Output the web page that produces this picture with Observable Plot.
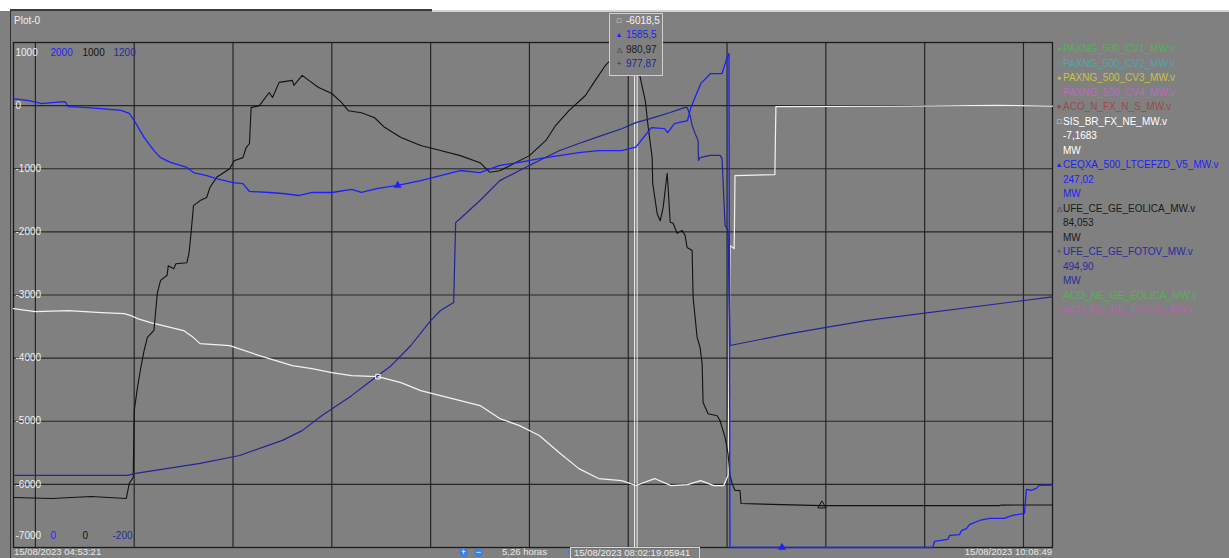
<!DOCTYPE html>
<html><head><meta charset="utf-8">
<script src="https://cdn.jsdelivr.net/npm/d3@7"></script>
<script src="https://cdn.jsdelivr.net/npm/@observablehq/plot@0.6"></script>
<style>
html,body{margin:0;padding:0;background:#808080;overflow:hidden;width:1229px;height:558px;font-family:"Liberation Sans",Arial,sans-serif;}
#wrap{position:relative;width:1229px;height:558px;overflow:hidden;}
#chart{position:absolute;left:0;top:0;}
.abs{position:absolute;white-space:nowrap;font-size:10px;}
.bot{position:absolute;white-space:nowrap;font-size:9.5px;line-height:10px;top:547px;}
#legend{position:absolute;left:1055px;top:42px;font-size:10px;line-height:14.5px;}
#legend div{height:14.5px;white-space:nowrap;}
#legend .sym{display:inline-block;width:8px;font-size:7px;vertical-align:top;text-align:center;}
#tip{position:absolute;left:609px;top:13px;width:52px;height:61px;border:1px solid #cfcfcf;background:#808080;font-size:10px;line-height:14.4px;}
#tip div{position:relative;height:14.4px;white-space:nowrap;}
#tip .sym{position:absolute;left:5px;width:8px;font-size:7px;text-align:center;}
#tip .val{position:absolute;left:16px;}
</style></head><body>
<div id="wrap">
  <div id="chart"></div>
</div>
<script>
// ---------- data ----------
const DAY = "2023-08-15";
const START = "04:53:21", END = "10:08:49";
const CURSOR = "08:02:19";

// SIS_BR_FX_NE_MW  (white, scale -7000..1000)
const sisBrFxNe = [["04:53:21",-3216],["05:00:00",-3263],["05:10:00",-3247],["05:20:00",-3279],["05:27:00",-3295],["05:29:00",-3326],["05:31:00",-3374],["05:35:00",-3437],["05:40:00",-3501],["05:45:00",-3564],["05:48:00",-3675],["05:50:00",-3770],["05:59:00",-3802],["06:08:00",-3960],["06:18:00",-4118],["06:24:00",-4166],["06:30:00",-4229],["06:36:00",-4277],["06:44:00",-4293],["06:51:00",-4388],["06:57:00",-4514],["07:03:00",-4594],["07:09:00",-4673],["07:15:00",-4752],["07:21:00",-4958],["07:27:00",-5069],["07:33:00",-5227],["07:39:00",-5496],["07:45:00",-5750],["07:51:00",-5908],["07:58:00",-5940],["08:02:19",-6018.5],["08:08:00",-5908],["08:13:00",-6019],["08:18:00",-6003],["08:22:00",-5940],["08:26:00",-6019],["08:29:00",-6019],["08:30:18",-5860],["08:30:55",-2218],["08:32:10",-2265],["08:32:25",-1109],["08:44:31",-1093],["08:44:50",-16],["09:22:00",-10],["09:52:00",5],["10:08:49",-7.17]];

// CEQXA_500_LTCEFZD_V5_MW (blue, scale 0..2000)
const ceqxa = [["04:53:21",1778],["04:58:00",1770],["05:02:00",1758],["05:05:00",1762],["05:09:00",1766],["05:10:00",1746],["05:16:00",1742],["05:20:00",1738],["05:26:00",1731],["05:28:30",1719],["05:30:00",1691],["05:33:00",1624],["05:36:00",1572],["05:38:00",1544],["05:41:00",1525],["05:46:00",1505],["05:48:00",1485],["05:52:00",1473],["05:55:00",1461],["06:00:00",1445],["06:03:00",1441],["06:05:00",1410],["06:11:00",1406],["06:15:00",1402],["06:20:00",1394],["06:24:00",1406],["06:30:00",1406],["06:36:00",1418],["06:39:00",1406],["06:44:00",1422],["06:50:00",1434],["06:57:00",1453],["07:03:00",1473],["07:09:00",1493],["07:15:00",1485],["07:21:00",1513],["07:27:00",1525],["07:33:00",1540],["07:39:00",1552],["07:45:00",1564],["07:51:00",1572],["07:58:00",1572],["08:02:19",1585.5],["08:07:00",1663],["08:11:00",1659],["08:12:00",1643],["08:14:00",1679],["08:18:00",1691],["08:19:00",1742],["08:22:00",1837],["08:25:00",1877],["08:28:30",1877],["08:30:00",1940],["08:30:35",1956],["08:30:53",0],["09:32:25",0],["09:33:00",24],["09:37:00",32],["09:37:36",48],["09:40:36",51],["09:41:12",67],["09:42:42",75],["09:43:36",91],["09:46:40",107],["09:49:42",115],["09:54:12",115],["09:56:40",127],["10:00:18",135],["10:00:54",230],["10:02:24",226],["10:03:54",234],["10:04:48",246],["10:08:49",247.02]];

// UFE_CE_GE_EOLICA_MW (black, scale 0..1000)
const eolica = [["04:53:21",99],["05:05:00",97],["05:17:00",101],["05:27:36",97],["05:28:30",127],["05:29:42",139],["05:30:00",271],["05:31:00",317],["05:32:00",356],["05:33:00",390],["05:34:00",416],["05:36:00",430],["05:37:00",503],["05:38:00",529],["05:40:00",539],["05:40:20",558],["05:42:00",552],["05:42:40",562],["05:46:00",564],["05:46:40",584],["05:47:20",628],["05:48:00",677],["05:50:00",687],["05:52:00",693],["05:53:00",713],["05:55:00",733],["05:59:00",750],["06:00:20",766],["06:03:00",772],["06:04:00",792],["06:05:00",800],["06:05:30",871],["06:08:00",875],["06:11:00",901],["06:12:00",891],["06:14:00",921],["06:18:00",925],["06:18:30",915],["06:21:00",935],["06:23:00",925],["06:26:00",911],["06:30:00",899],["06:33:00",881],["06:35:00",865],["06:39:00",861],["06:43:00",851],["06:46:00",832],["06:51:00",812],["06:57:00",796],["07:03:00",786],["07:09:00",776],["07:15:00",762],["07:18:00",743],["07:21:00",746],["07:24:00",756],["07:30:00",776],["07:35:00",806],["07:38:00",836],["07:42:00",865],["07:47:00",895],["07:50:00",925],["07:53:00",954],["07:56:00",974],["07:59:00",984],["08:02:19",980.97],["08:03:38",931],["08:05:10",885],["08:06:04",832],["08:07:16",772],["08:07:26",721],["08:08:47",661],["08:09:42",647],["08:10:36",673],["08:11:49",741],["08:12:07",713],["08:12:44",644],["08:13:38",642],["08:14:51",622],["08:16:22",628],["08:17:16",618],["08:17:52",594],["08:19:24",588],["08:19:42",495],["08:20:55",416],["08:21:49",396],["08:22:26",364],["08:22:44",287],["08:24:15",265],["08:27:00",261],["08:27:53",251],["08:29:24",218],["08:30:18",186],["08:30:55",143],["08:31:31",127],["08:32:25",113],["08:33:56",113],["08:34:14",87],["08:58:48",83],["09:52:44",83],["09:53:20",84],["10:08:49",84.05]];

// UFE_CE_GE_FOTOV_MW (navy, scale -200..1200)
const fotov = [["04:53:21",0],["05:28:00",0],["05:30:00",5],["05:50:00",33],["06:02:00",55],["06:15:00",97],["06:21:00",124],["06:27:00",166],["06:36:00",221],["06:42:00",263],["06:48:00",304],["06:54:00",360],["07:00:00",429],["07:03:00",457],["07:07:00",479],["07:07:36",701],["07:09:00",712],["07:15:00",762],["07:21:00",817],["07:27:00",845],["07:33:00",873],["07:39:00",900],["07:45:00",920],["07:51:00",939],["07:58:00",961],["08:02:19",977.87],["08:06:40",989],["08:12:44",1006],["08:17:16",1020],["08:17:52",1020],["08:18:47",998],["08:19:24",970],["08:20:18",948],["08:21:13",928],["08:21:20",873],["08:21:49",881],["08:24:51",887],["08:27:53",887],["08:28:29",878],["08:29:24",693],["08:30:18",679],["08:30:55",360],["08:49:05",393],["09:12:07",429],["10:08:49",494.9]];

// series markers on the traces
const sisMarks = [["06:44:00",-4293]];
const ceqxaMarks = [["06:50:00",1434],["08:46:40",0]];
const eolicaMarks = [["08:58:48",83]];
const fotovMarks = [["09:12:07",429]];

// axis scales for each trace and their tick labels
const sisScale = [-7000, 1000];
const ceqxaScale = [0, 2000];
const eolicaScale = [0, 1000];
const fotovScale = [-200, 1200];
const midTicks = [-6000,-5000,-4000,-3000,-2000,-1000,0];
const topLabels = ["1000","2000","1000","1200"];
const bottomLabels = ["-7000","0","0","-200"];

// colours
const cWhite = "#f2f2f2", cBlue = "#1e1eff", cBlack = "#111111", cNavy = "#23239a";
const labelColors = ["#efefef", "#2424ff", "#151515", "#2a2a9c"];
const labelOffsets = [2, 37, 69, 100];

const legendRows = [
  ["●","PAXNG_500_CV1_MW.v","#58b058"],
  ["○","PAXNG_500_CV2_MW.v","#55a5a5"],
  ["●","PAXNG_500_CV3_MW.v","#c9c245"],
  ["○","PAXNG_500_CV4_MW.v","#bb6bbb"],
  ["■","ACO_N_FX_N_S_MW.v","#9c4a4a"],
  ["□","SIS_BR_FX_NE_MW.v","#ffffff"],
  ["","-7,1683","#ffffff"],
  ["","MW","#ffffff"],
  ["▲","CEQXA_500_LTCEFZD_V5_MW.v","#1e1eff"],
  ["","247,02","#1e1eff"],
  ["","MW","#1e1eff"],
  ["△","UFE_CE_GE_EOLICA_MW.v","#1a1a1a"],
  ["","84,053","#1a1a1a"],
  ["","MW","#1a1a1a"],
  ["+","UFE_CE_GE_FOTOV_MW.v","#2a2aa0"],
  ["","494,90","#2a2aa0"],
  ["","MW","#2a2aa0"],
  ["·","ACO_NE_GE_EOLICA_MW.v","#58b058"],
  ["×","ACO_NE_GE_FOTOV_MW.v","#b565a8"]
];
const tipRows = [["□","-6018,5","#f4f4f4"],["▲","1585,5","#1e1eff"],["△","980,97","#1c1c1c"],["+","977,87","#24249c"]];

// ---------- build ----------
const parse = t => new Date(`${DAY}T${t}Z`);
const toMain = (v, [lo, hi]) => sisScale[0] + (v - lo) / (hi - lo) * (sisScale[1] - sisScale[0]);
const rows = (pairs, sc) => pairs.map(([t, v]) => ({t: parse(t), y: toMain(v, sc)}));

const sisData = rows(sisBrFxNe, sisScale);
const ceqxaData = rows(ceqxa, ceqxaScale);
const eolData = rows(eolica, eolicaScale);
const fotData = rows(fotov, fotovScale);

const t0 = parse(START), t1 = parse(END);
const xTicks = d3.utcMinute.every(30).range(t0, t1);
const yTicks = d3.range(-7000, 1001, 1000);

const labelMarks = [];
topLabels.forEach((s, i) => labelMarks.push(Plot.text([s], {frameAnchor: "top-left", text: d => d, dx: labelOffsets[i], dy: 6, fill: labelColors[i], textAnchor: "start"})));
bottomLabels.forEach((s, i) => labelMarks.push(Plot.text([s], {frameAnchor: "bottom-left", text: d => d, dx: labelOffsets[i] - (i === 3 ? 1 : 0), dy: -9, fill: labelColors[i], textAnchor: "start"})));

const chart = Plot.plot({
  width: 1229, height: 558,
  marginTop: 42, marginLeft: 13, marginRight: 177, marginBottom: 11,
  x: {type: "utc", domain: [t0, t1], axis: null},
  y: {domain: sisScale, axis: null},
  style: {background: "#808080", fontFamily: "Liberation Sans, Arial, sans-serif", fontSize: "10px", overflow: "visible"},
  marks: [
    Plot.gridY({ticks: yTicks, stroke: "#262626", strokeOpacity: 1, strokeWidth: 1.2}),
    Plot.gridX({ticks: xTicks, stroke: "#262626", strokeOpacity: 1, strokeWidth: 1.2}),
    Plot.frame({stroke: "#1c1c1c", strokeWidth: 1.3}),
    Plot.text(midTicks, {y: d => d, frameAnchor: "left", text: d => String(d), dx: 2, fill: "#efefef", textAnchor: "start"}),
    ...labelMarks,
    Plot.ruleX([parse(CURSOR)], {stroke: "#ececec", strokeWidth: 1, dx: -1.3}),
    Plot.ruleX([parse(CURSOR)], {stroke: "#ececec", strokeWidth: 1, dx: 1.3}),
    Plot.line(sisData, {x: "t", y: "y", stroke: cWhite, strokeWidth: 1.2}),
    Plot.line(eolData, {x: "t", y: "y", stroke: cBlack, strokeWidth: 1.1}),
    Plot.line(fotData, {x: "t", y: "y", stroke: cNavy, strokeWidth: 1.2}),
    Plot.line(ceqxaData, {x: "t", y: "y", stroke: cBlue, strokeWidth: 1.3}),
    Plot.dot(rows(sisMarks, sisScale), {x: "t", y: "y", symbol: "square", r: 2.6, stroke: cWhite, fill: "none", strokeWidth: 1}),
    Plot.dot(rows(ceqxaMarks, ceqxaScale), {x: "t", y: "y", symbol: "triangle", r: 3, fill: cBlue, stroke: "none"}),
    Plot.dot(rows(eolicaMarks, eolicaScale), {x: "t", y: "y", symbol: "triangle", r: 3, fill: "none", stroke: cBlack, strokeWidth: 1}),
    Plot.dot(rows(fotovMarks, fotovScale), {x: "t", y: "y", symbol: "plus", r: 3, fill: cNavy, stroke: "none"})
  ]
});
document.getElementById("chart").append(chart);

// ---------- surrounding panel (HTML) ----------
const wrap = document.getElementById("wrap");
function add(html) { wrap.insertAdjacentHTML("beforeend", html); }
add(`<div style="position:absolute;left:0;top:0;width:1229px;height:11px;background:#fff"></div>`);
add(`<div style="position:absolute;left:10px;top:9px;width:422px;height:2px;background:#3a3a3a"></div>`);
add(`<div style="position:absolute;left:432px;top:10px;width:797px;height:2px;background:#d4d4d4"></div>`);
add(`<div style="position:absolute;left:10px;top:11px;width:1px;height:547px;background:#333"></div>`);
add(`<div class="abs" style="left:14px;top:15px;color:#f0f0f0">Plot-0</div>`);

// legend
const lg = legendRows.map(([s, t, c]) => `<div style="color:${c}"><span class="sym">${s}</span>${t}</div>`).join("");
add(`<div id="legend">${lg}</div>`);

// cursor readout box
const tp = tipRows.map(([s, t, c]) => `<div style="color:${c}"><span class="sym">${s}</span><span class="val">${t}</span></div>`).join("");
add(`<div id="tip">${tp}</div>`);

// bottom strip
add(`<div class="bot" style="left:14px;color:#e8e8e8">15/08/${DAY.slice(0,4)} ${START}</div>`);
add(`<div style="position:absolute;left:459px;top:548px;width:9px;height:9px;border-radius:50%;background:#3f7fdc;color:#fff;font-size:9px;line-height:9px;text-align:center">+</div>`);
add(`<div style="position:absolute;left:474px;top:548px;width:9px;height:9px;border-radius:50%;background:#3f7fdc;color:#fff;font-size:9px;line-height:9px;text-align:center">−</div>`);
add(`<div class="bot" style="left:502px;color:#e8e8e8">5,26 horas</div>`);
add(`<div class="bot" style="left:565px;color:#3f7fdc;font-size:8px">◂</div>`);
add(`<div class="bot" style="left:570px;width:130px;height:11px;border:1px solid #d8d8d8;border-bottom:none;color:#ececec;padding-left:3px;box-sizing:border-box;line-height:10px">15/08/2023 ${CURSOR}.05941</div>`);
add(`<div class="bot" style="left:952px;width:100px;text-align:right;color:#e8e8e8">15/08/2023 ${END}</div>`);
</script>
</body></html>
